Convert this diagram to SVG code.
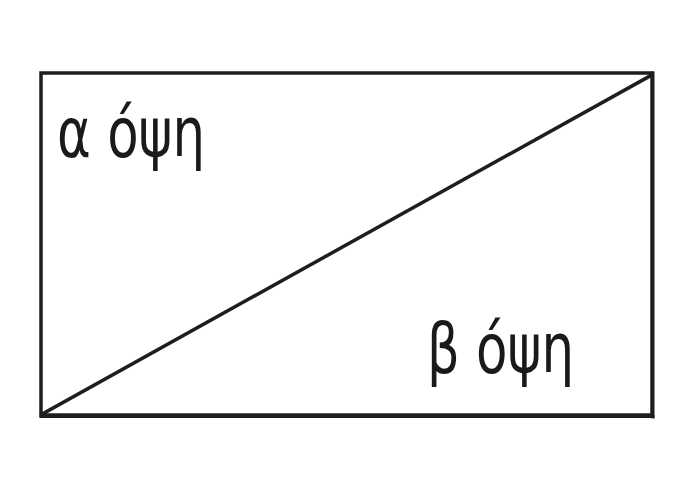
<svg xmlns="http://www.w3.org/2000/svg" width="700" height="500" viewBox="0 0 700 500">
<style>
.edge{stroke:#1e1e1e;fill:none;stroke-linecap:square}
.lbl{font-family:"DejaVu Sans","Noto Sans",sans-serif;font-size:70px;fill:#1a1a1a}
</style>
<rect width="700" height="500" fill="#ffffff"/>
<g id="frame">
<rect class="edge" x="41" y="73" width="611" height="342" stroke-width="3.5"/>
<line class="edge" x1="653" y1="73" x2="653" y2="417" stroke-width="3" stroke="#444"/>
<line class="edge" x1="41" y1="416.5" x2="653" y2="416.5" stroke-width="3" stroke="#444"/>
</g>
<g id="connectors">
<line class="edge" x1="44" y1="413" x2="650" y2="76" stroke-width="3.5"/>
</g>
<g id="node-a">
<text class="lbl" x="57" y="157" textLength="148" lengthAdjust="spacingAndGlyphs">α όψη</text>
</g>
<g id="node-b">
<text class="lbl" x="427" y="373" textLength="147" lengthAdjust="spacingAndGlyphs">β όψη</text>
</g>
</svg>
